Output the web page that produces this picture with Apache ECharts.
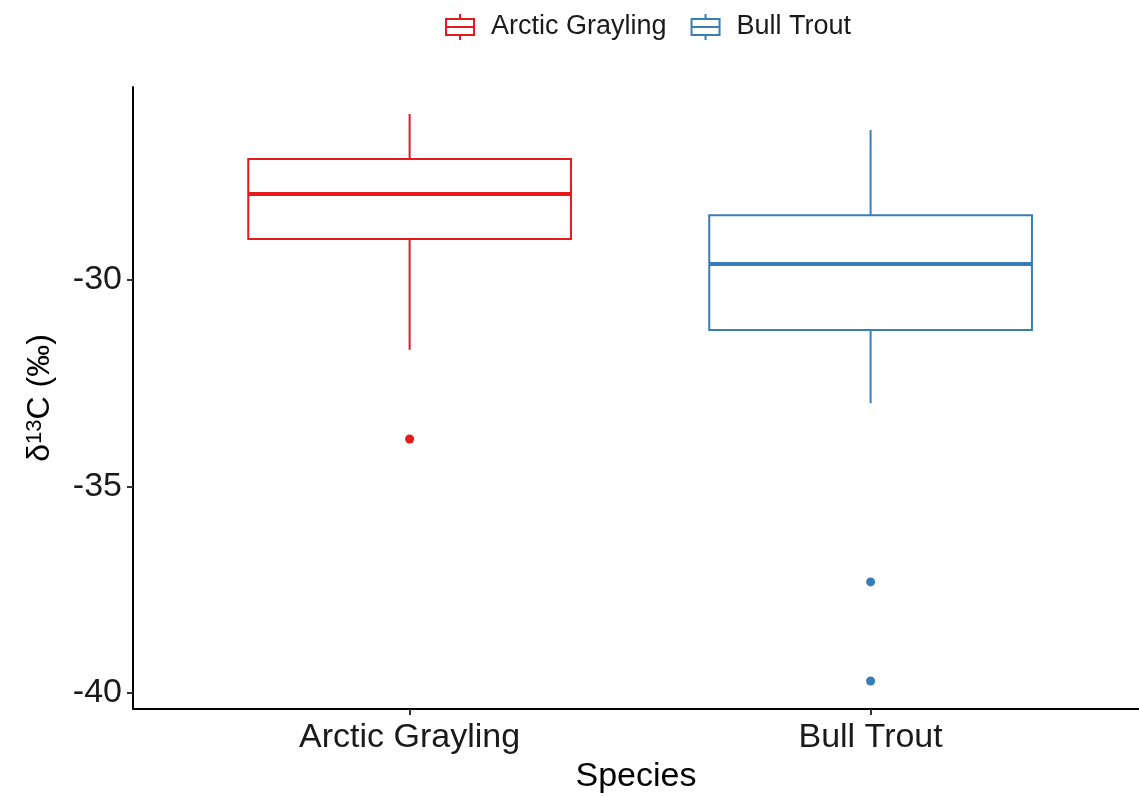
<!DOCTYPE html>
<html>
<head>
<meta charset="utf-8">
<script src="https://cdn.jsdelivr.net/npm/echarts@6/dist/echarts.min.js"></script>
<style>
  html, body { margin: 0; padding: 0; background: #fff; }
  #chart { width: 1139px; height: 796px; }
</style>
</head>
<body>
<div id="chart"></div>
<script>
// ---- data ----
const categories = ['Arctic Grayling', 'Bull Trout'];
const colors = ['#E41A1C', '#377EB8'];
// [lowerWhisker, Q1, median, Q3, upperWhisker]
const graylingBox = [-31.69, -29.01, -27.92, -27.07, -25.98];
const bullTroutBox = [-32.98, -31.21, -29.61, -28.43, -26.37];
const graylingOutliers = [-33.85];
const bullTroutOutliers = [-37.31, -39.71];
const yTicks = [-40, -35, -30];

const boxes = [graylingBox, bullTroutBox];
const outliers = [graylingOutliers, bullTroutOutliers];

const chart = echarts.init(document.getElementById('chart'));
const FONT = 'Liberation Sans, Arial, sans-serif';
const BOX_W = 0.7;

function boxSeries(i) {
  return {
    name: categories[i],
    type: 'custom',
    data: [[i + 1].concat(boxes[i])],
    encode: { x: 0, y: [1, 2, 3, 4, 5] },
    itemStyle: { color: 'transparent', borderColor: colors[i], borderWidth: 2 },
    renderItem: function (params, api) {
      const x = api.value(0);
      const lo = api.coord([x, api.value(1)]);
      const q1 = api.coord([x, api.value(2)]);
      const med = api.coord([x, api.value(3)]);
      const q3 = api.coord([x, api.value(4)]);
      const hi = api.coord([x, api.value(5)]);
      const halfW = api.size([BOX_W, 0])[0] / 2;
      const stroke = { stroke: colors[i], lineWidth: 2, fill: null };
      return {
        type: 'group',
        children: [
          { type: 'line', shape: { x1: lo[0], y1: lo[1], x2: q1[0], y2: q1[1] }, style: stroke },
          { type: 'line', shape: { x1: q3[0], y1: q3[1], x2: hi[0], y2: hi[1] }, style: stroke },
          { type: 'rect', shape: { x: q3[0] - halfW, y: q3[1], width: halfW * 2, height: q1[1] - q3[1] },
            style: { stroke: colors[i], lineWidth: 2, fill: '#fff' } },
          { type: 'line', shape: { x1: med[0] - halfW, y1: med[1], x2: med[0] + halfW, y2: med[1] },
            style: { stroke: colors[i], lineWidth: 4 } }
        ]
      };
    },
    z: 2
  };
}

function outlierSeries(i) {
  return {
    name: categories[i],
    type: 'scatter',
    data: outliers[i].map(v => [i + 1, v]),
    symbol: 'circle',
    symbolSize: 9,
    itemStyle: { color: colors[i], opacity: 1 },
    z: 3
  };
}

const legendIcon = 'path://M15,0 L15,5 M1,5 L29,5 L29,21 L1,21 Z M1,13 L29,13 M15,21 L15,26';

const option = {
  animation: false,
  backgroundColor: '#fff',
  legend: {
    top: 8,
    left: 440,
    itemWidth: 30,
    itemHeight: 26,
    itemGap: 24,
    textStyle: { fontFamily: FONT, fontSize: 27, color: '#1a1a1a', padding: [0, 0, 0, 11] },
    data: categories.map((c, i) => ({
      name: c,
      icon: legendIcon,
      itemStyle: { color: 'transparent', borderColor: colors[i], borderWidth: 2 }
    }))
  },
  grid: { left: 133, right: 0, top: 87, bottom: 87, containLabel: false, outerBoundsMode: 'none' },
  xAxis: {
    type: 'value',
    min: 0.4,
    max: 0.4 + 1006 / 461,
    splitLine: { show: false },
    axisLine: { show: true, onZero: false, lineStyle: { color: '#000', width: 2 } },
    axisTick: { show: true, length: 6, customValues: [1, 2], lineStyle: { color: '#333', width: 2 } },
    axisLabel: {
      customValues: [1, 2],
      formatter: v => categories[Math.round(v) - 1] || '',
      fontFamily: FONT, fontSize: 34, color: '#1a1a1a', margin: 12
    },
    name: 'Species',
    nameLocation: 'middle',
    nameGap: 50,
    nameTextStyle: { fontFamily: FONT, fontSize: 34, color: '#000' }
  },
  yAxis: {
    type: 'value',
    min: -40 - 16 / 41.3,
    max: -30 + 193 / 41.3,
    splitLine: { show: false },
    axisLine: { show: true, onZero: false, lineStyle: { color: '#000', width: 2 } },
    axisTick: { show: true, length: 6, customValues: yTicks, lineStyle: { color: '#333', width: 2 } },
    axisLabel: {
      customValues: yTicks,
      formatter: v => String(v),
      fontFamily: FONT, fontSize: 34, color: '#1a1a1a', margin: 11
    },
    name: '{d|δ}{s|13}{d|C (‰)}',
    nameLocation: 'middle',
    nameGap: 77,
    nameRotate: 90,
    nameTextStyle: {
      rich: {
        d: { fontFamily: FONT, fontSize: 32, color: '#000' },
        s: { fontFamily: FONT, fontSize: 22, color: '#000', verticalAlign: 'top', lineHeight: 22, padding: [0, 0, 12, 0] }
      }
    }
  },
  series: [boxSeries(0), boxSeries(1), outlierSeries(0), outlierSeries(1)]
};

chart.setOption(option);
</script>
</body>
</html>
